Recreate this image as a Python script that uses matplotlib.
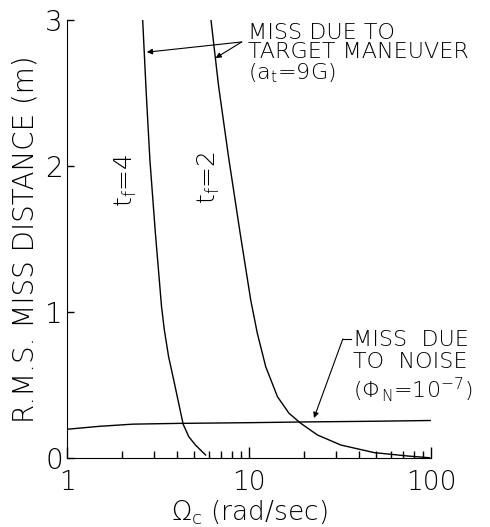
import numpy as np
import matplotlib
matplotlib.use("Agg")
import matplotlib.pyplot as plt

# Miss distance due to target maneuver, t_f = 4 s
omega_tf4 = [2.60, 2.72, 2.85, 3.05, 3.30, 3.42, 3.61, 3.85, 4.10, 4.34, 4.66, 5.07, 5.76]
miss_tf4 = [3.00, 2.50, 2.04, 1.55, 1.04, 0.879, 0.696, 0.537, 0.378, 0.234, 0.149, 0.092, 0.024]

# Miss distance due to target maneuver, t_f = 2 s
omega_tf2 = [6.17, 6.79, 7.69, 8.90, 10.2, 11.09, 12.33, 14.30, 16.56, 19.2, 23.7, 31.9, 48.7, 74.3, 97.8]
miss_tf2 = [3.00, 2.55, 2.07, 1.55, 1.084, 0.856, 0.628, 0.423, 0.309, 0.241, 0.161, 0.092, 0.040, 0.017, 0.005]

# Miss distance due to noise
omega_noise = [1, 1.5, 2.3, 4, 10, 20, 50, 100]
miss_noise = [0.20, 0.22, 0.235, 0.24, 0.245, 0.25, 0.255, 0.26]

x_ticks = [1, 10, 100]
x_tick_labels = ["1", "10", "100"]
y_ticks = [0, 1, 2, 3]
y_tick_labels = ["0", "1", "2", "3"]

plt.rcParams["font.weight"] = "light"
plt.rcParams["axes.labelweight"] = "light"

fig = plt.figure(figsize=(4.9, 5.27), dpi=100)
ax = fig.add_axes([0.137, 0.130, 0.743, 0.832])

ax.plot(omega_tf4, miss_tf4, color="black", lw=1.0)
ax.plot(omega_tf2, miss_tf2, color="black", lw=1.0)
ax.plot(omega_noise, miss_noise, color="black", lw=1.0)

ax.set_xscale("log")
ax.set_xlim(1, 100)
ax.set_ylim(0, 3)
ax.set_xticks(x_ticks)
ax.set_xticklabels(x_tick_labels)
ax.set_yticks(y_ticks)
ax.set_yticklabels(y_tick_labels)
ax.xaxis.set_minor_formatter(matplotlib.ticker.NullFormatter())

ax.spines["top"].set_visible(False)
ax.spines["right"].set_visible(False)
ax.tick_params(axis="both", which="both", direction="in", width=1.0)
ax.tick_params(axis="x", which="major", length=8, pad=8, labelsize=19)
ax.tick_params(axis="x", which="minor", length=5)
ax.tick_params(axis="y", which="major", length=5, pad=3, labelsize=20)

ax.set_xlabel(r"$\Omega_\mathrm{c}$ (rad/sec)", fontsize=19, labelpad=3)
ax.set_ylabel("R.M.S. MISS DISTANCE (m)", fontsize=20, labelpad=4)

# curve labels
ax.text(2.09, 1.905, r"t$_\mathrm{f}$=4", rotation=90, fontsize=18, ha="center", va="center")
ax.text(5.98, 1.925, r"t$_\mathrm{f}$=2", rotation=90, fontsize=18, ha="center", va="center")

# maneuver note with two arrows
ax.text(9.9, 2.98, "MISS DUE TO\nTARGET MANEUVER\n(a$_\\mathrm{t}$=9G)", fontsize=16,
        ha="left", va="top", linespacing=0.95)
arrow = dict(arrowstyle="-|>", color="black", lw=0.8, mutation_scale=8, shrinkA=0, shrinkB=0)
ax.annotate("", xy=(2.74, 2.78), xytext=(9.1, 2.85), arrowprops=arrow)
ax.annotate("", xy=(6.54, 2.74), xytext=(9.1, 2.85), arrowprops=arrow)

# noise note
ax.text(37.2, 0.88, "MISS  DUE\nTO  NOISE\n($\\Phi_\\mathrm{N}$=10$^{-7}$)", fontsize=16,
        ha="left", va="top", linespacing=1.15)
ax.plot([32.7, 36.2], [0.818, 0.818], color="black", lw=0.8)
ax.annotate("", xy=(22.7, 0.277), xytext=(32.7, 0.818), arrowprops=arrow)

fig.savefig("out.png", dpi=100)
